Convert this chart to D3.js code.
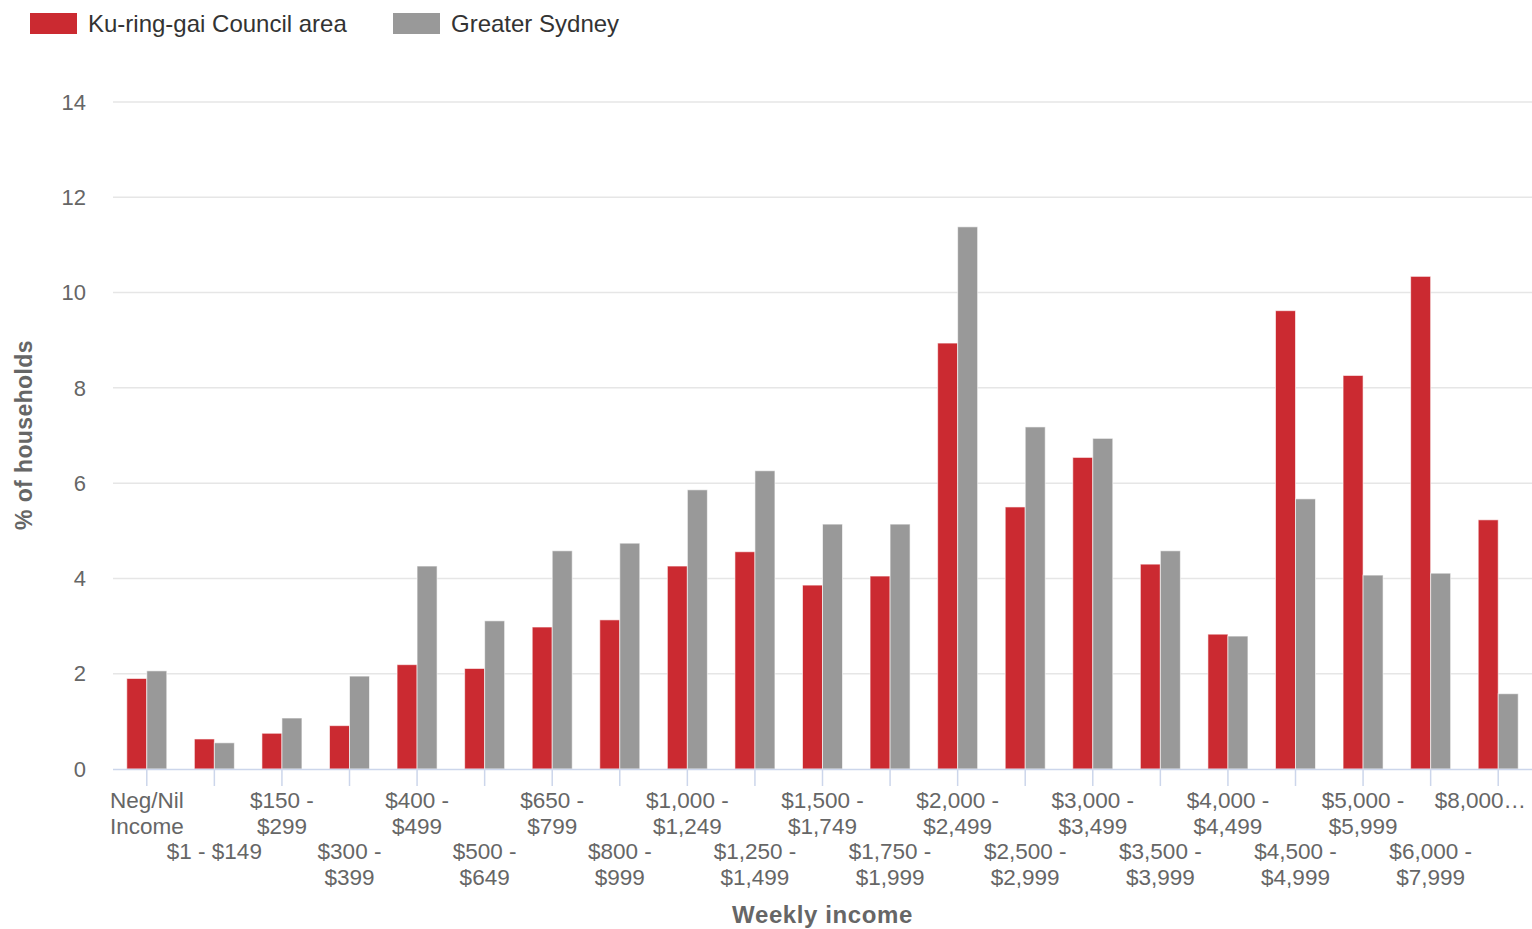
<!DOCTYPE html>
<html>
<head>
<meta charset="utf-8">
<script src="https://cdn.jsdelivr.net/npm/d3@7"></script>
<style>
  body { margin: 0; background: #fff; }
  svg text { font-family: "Liberation Sans", Arial, sans-serif; }
</style>
</head>
<body>
<svg width="1532" height="929"></svg>
<script>
// weekly household income brackets
var categories = [
  ["Neg/Nil", "Income"], ["$1 - $149"], ["$150 -", "$299"], ["$300 -", "$399"],
  ["$400 -", "$499"], ["$500 -", "$649"], ["$650 -", "$799"], ["$800 -", "$999"],
  ["$1,000 -", "$1,249"], ["$1,250 -", "$1,499"], ["$1,500 -", "$1,749"], ["$1,750 -", "$1,999"],
  ["$2,000 -", "$2,499"], ["$2,500 -", "$2,999"], ["$3,000 -", "$3,499"], ["$3,500 -", "$3,999"],
  ["$4,000 -", "$4,499"], ["$4,500 -", "$4,999"], ["$5,000 -", "$5,999"], ["$6,000 -", "$7,999"],
  ["$8,000\u2026"]
];
var seriesNames = ["Ku-ring-gai Council area", "Greater Sydney"];
var seriesColors = ["#cb2a31", "#999999"];
var kuringgai = [1.90, 0.63, 0.75, 0.91, 2.19, 2.11, 2.98, 3.13, 4.26, 4.56, 3.86, 4.05,
                 8.94, 5.50, 6.54, 4.30, 2.83, 9.62, 8.26, 10.34, 5.23];
var sydney = [2.06, 0.55, 1.07, 1.95, 4.26, 3.11, 4.58, 4.74, 5.86, 6.26, 5.14, 5.14,
              11.38, 7.18, 6.94, 4.58, 2.79, 5.67, 4.07, 4.11, 1.58];
var yTicks = [0, 2, 4, 6, 8, 10, 12, 14];

var svg = d3.select("svg");
var plotLeft = 113, plotRight = 1532, plotTop = 102, plotBottom = 769;

var x = d3.scaleBand()
    .domain(d3.range(categories.length))
    .range([plotLeft, plotRight]);
var bw = x.bandwidth();
var x1 = d3.scaleBand()
    .domain([0, 1])
    .range([bw / 2 - 20, bw / 2 + 20]);
var y = d3.scaleLinear()
    .domain([0, 14])
    .range([plotBottom, plotTop]);

// gridlines
svg.append("g")
    .selectAll("line")
    .data(yTicks.slice(1))
    .enter().append("line")
    .attr("x1", plotLeft).attr("x2", plotRight)
    .attr("y1", function (d) { return y(d); })
    .attr("y2", function (d) { return y(d); })
    .attr("stroke", "#e6e6e6")
    .attr("stroke-width", 1.5);

// y labels
svg.append("g")
    .selectAll("text")
    .data(yTicks)
    .enter().append("text")
    .attr("x", 86)
    .attr("y", function (d) { return y(d); })
    .attr("dy", "0.35em")
    .attr("text-anchor", "end")
    .attr("fill", "#666")
    .style("font-size", "22px")
    .text(function (d) { return d; });

// bars
var series = [kuringgai, sydney];
var groups = svg.append("g")
    .selectAll("g")
    .data(series)
    .enter().append("g")
    .attr("fill", function (d, i) { return seriesColors[i]; });
groups.each(function (vals, si) {
    d3.select(this).selectAll("rect")
        .data(vals)
        .enter().append("rect")
        .attr("x", function (d, i) { return x(i) + x1(si); })
        .attr("width", x1.bandwidth())
        .attr("y", function (d) { return y(d); })
        .attr("height", function (d) { return y(0) - y(d); })
        .attr("stroke", "#fff")
        .attr("stroke-opacity", 0.6)
        .attr("stroke-width", 1);
});

// x axis line + ticks
svg.append("line")
    .attr("x1", plotLeft).attr("x2", plotRight)
    .attr("y1", plotBottom + 0.5).attr("y2", plotBottom + 0.5)
    .attr("stroke", "#ccd6eb")
    .attr("stroke-width", 1.5);
svg.append("g")
    .selectAll("line")
    .data(d3.range(categories.length))
    .enter().append("line")
    .attr("x1", function (i) { return x(i) + bw / 2; })
    .attr("x2", function (i) { return x(i) + bw / 2; })
    .attr("y1", plotBottom)
    .attr("y2", plotBottom + 17)
    .attr("stroke", "#ccd6eb")
    .attr("stroke-width", 1.5);

// x labels, staggered on two rows; the last one is pushed in from the edge
var last = categories.length - 1;
var lab = svg.append("g")
    .selectAll("text")
    .data(categories)
    .enter().append("text")
    .attr("text-anchor", function (d, i) { return i === last ? "end" : "middle"; })
    .attr("fill", "#666")
    .style("font-size", "22.5px")
    .attr("transform", function (d, i) {
        var row = i % 2 === 0 ? 808 : 859;
        var cx = i === last ? plotRight - 6 : x(i) + bw / 2;
        return "translate(" + cx + "," + row + ")";
    });
lab.selectAll("tspan")
    .data(function (d) { return d; })
    .enter().append("tspan")
    .attr("x", 0)
    .attr("dy", function (d, j) { return j === 0 ? 0 : 26; })
    .text(function (d) { return d; });

// axis titles
svg.append("text")
    .attr("x", (plotLeft + plotRight) / 2)
    .attr("y", 923)
    .attr("text-anchor", "middle")
    .attr("fill", "#666")
    .style("font-size", "24px")
    .style("font-weight", "bold")
    .style("letter-spacing", "0.6px")
    .text("Weekly income");
svg.append("text")
    .attr("transform", "translate(32,435) rotate(-90)")
    .attr("text-anchor", "middle")
    .attr("fill", "#666")
    .style("font-size", "23px")
    .style("font-weight", "bold")
    .style("letter-spacing", "0.4px")
    .text("% of households");

// legend
var legend = svg.append("g");
var lx = [30, 393];
seriesNames.forEach(function (name, i) {
    legend.append("rect")
        .attr("x", lx[i]).attr("y", 13)
        .attr("width", 47).attr("height", 21)
        .attr("fill", seriesColors[i]);
    legend.append("text")
        .attr("x", lx[i] + 58).attr("y", 32)
        .attr("fill", "#333")
        .style("font-size", "24px")
        .text(name);
});
</script>
</body>
</html>
